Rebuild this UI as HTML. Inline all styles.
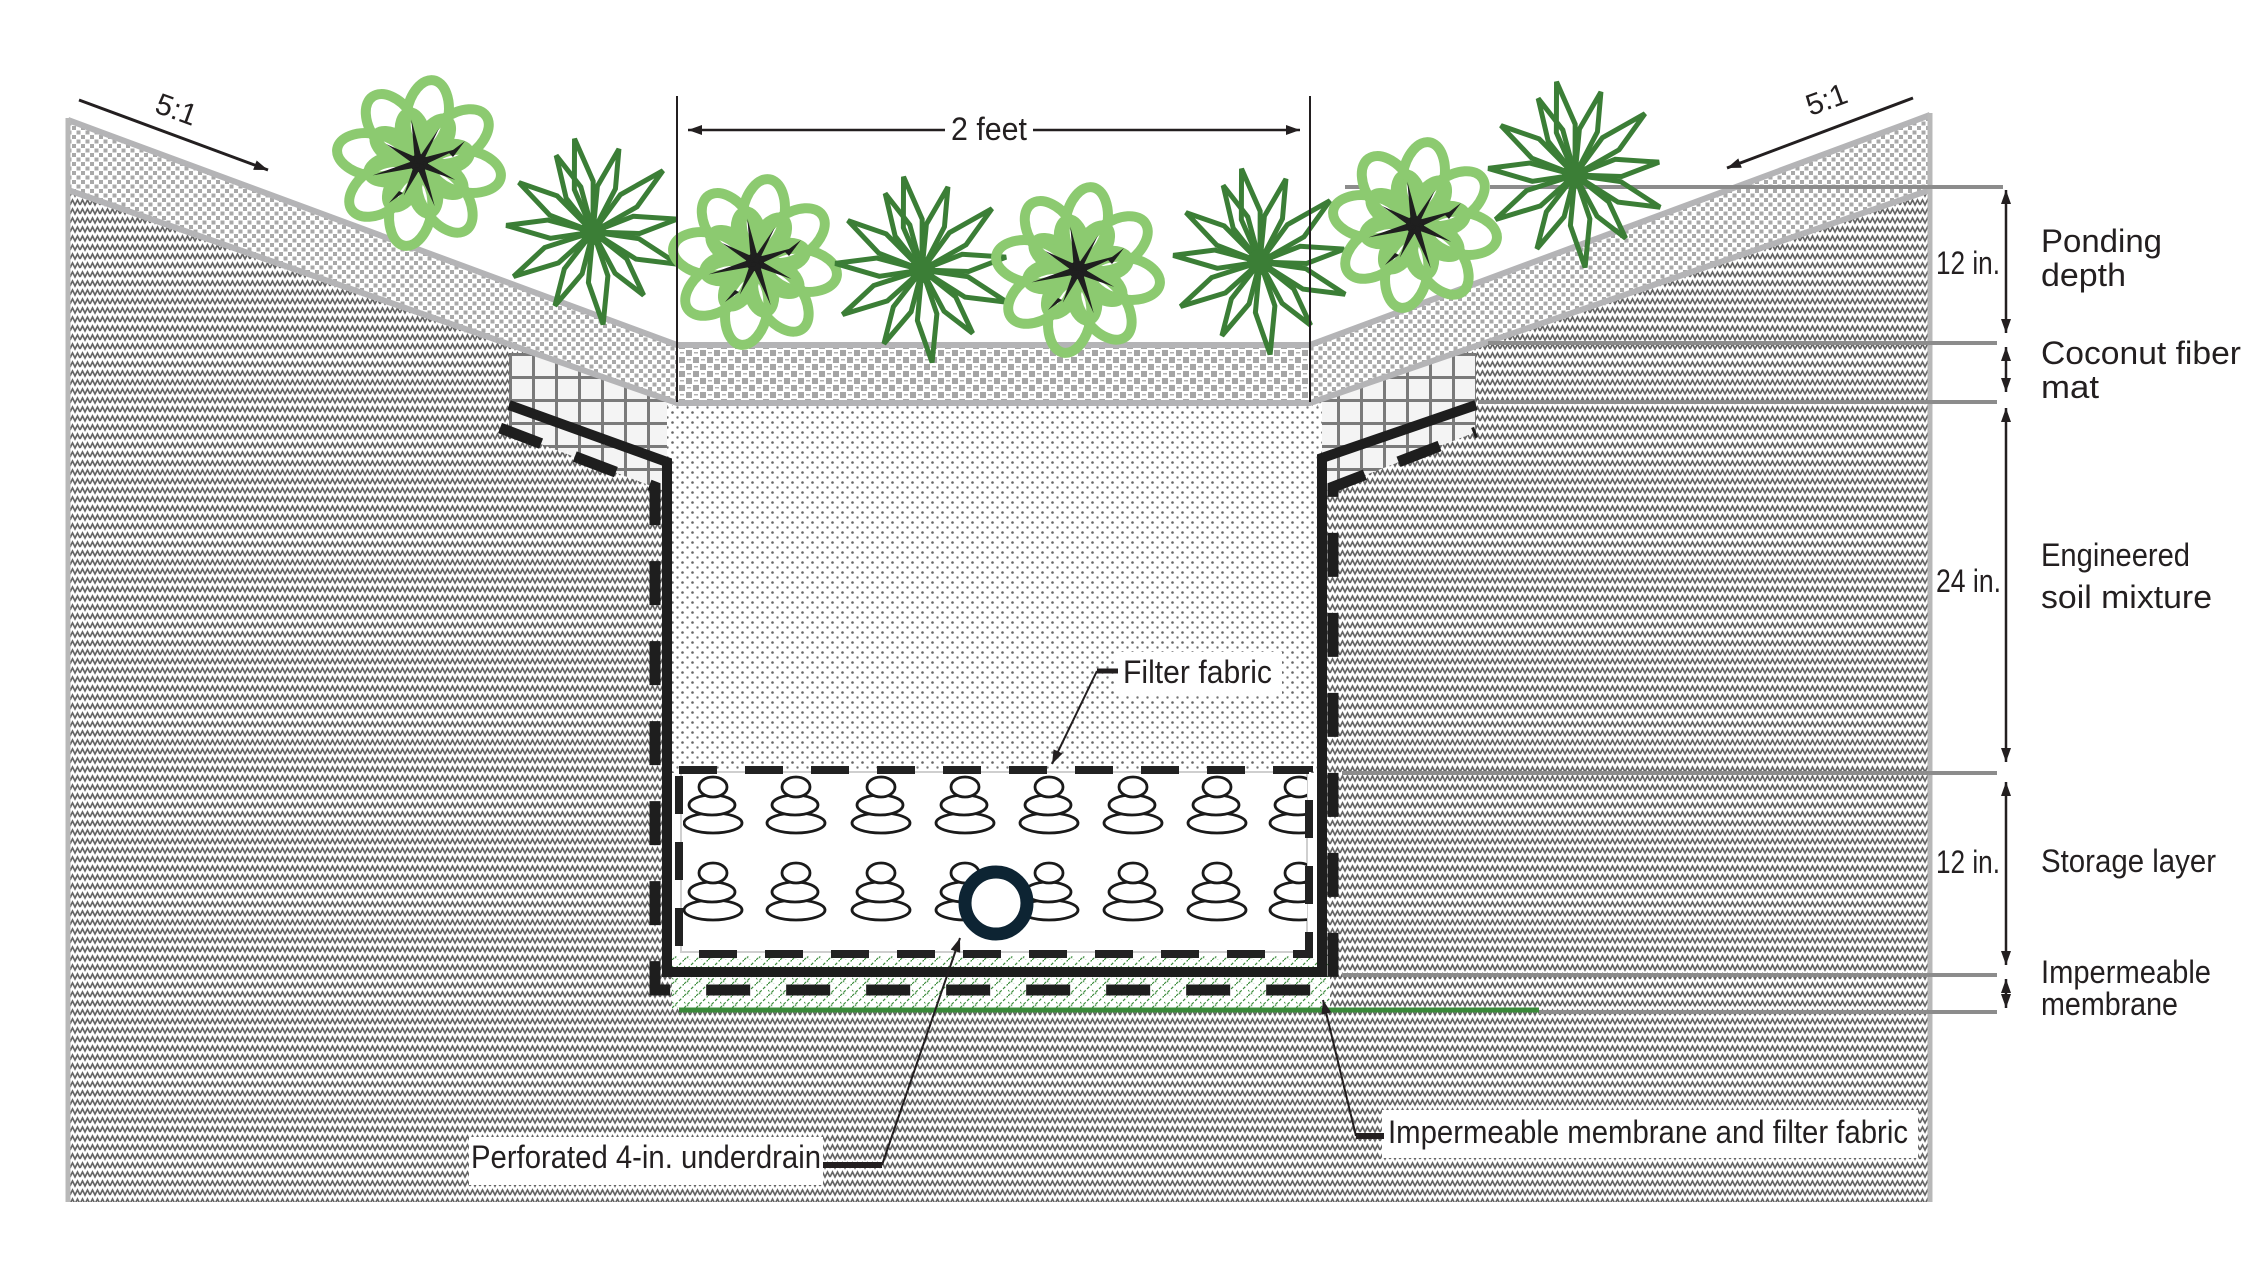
<!DOCTYPE html>
<html>
<head>
<meta charset="utf-8">
<style>
html,body{margin:0;padding:0;background:#fff;}
svg{display:block;}
text{font-family:"Liberation Sans Narrow","Liberation Sans",Arial,sans-serif;fill:#231f20;}
</style>
</head>
<body>
<svg width="2250" height="1263" viewBox="0 0 2250 1263" xmlns="http://www.w3.org/2000/svg">
<defs>
  <pattern id="gnd" width="10" height="9" patternUnits="userSpaceOnUse">
    <rect width="10" height="9" fill="#fff"/>
    <polyline points="0,7 2.5,2 5,7 7.5,2 10,7" fill="none" stroke="#666" stroke-width="1.7"/>
  </pattern>
  <pattern id="matS" width="9" height="9" patternUnits="userSpaceOnUse">
    <rect width="9" height="9" fill="#fff"/>
    <rect x="0" y="0" width="4" height="4" fill="#a9a9a9"/>
    <rect x="4.5" y="4.5" width="4" height="4" fill="#a9a9a9"/>
  </pattern>
  <pattern id="matF" width="14" height="14" patternUnits="userSpaceOnUse">
    <rect width="14" height="14" fill="#fff"/>
    <rect x="0" y="0" width="6" height="6" fill="#a6a6a6"/>
    <rect x="7" y="7" width="6" height="6" fill="#a6a6a6"/>
    <rect x="8" y="2" width="4" height="1.5" fill="#b0b0b0"/>
    <rect x="1" y="9" width="4" height="1.5" fill="#b0b0b0"/>
  </pattern>
  <pattern id="soil" width="10" height="10" patternUnits="userSpaceOnUse">
    <rect width="10" height="10" fill="#fff"/>
    <circle cx="2.5" cy="2.5" r="1.3" fill="#666"/>
    <circle cx="7.5" cy="7.5" r="1.2" fill="#777"/>
  </pattern>
  <pattern id="grid" width="23" height="23" patternUnits="userSpaceOnUse" x="509" y="353">
    <rect width="23" height="23" fill="#f4f4f4"/>
    <rect x="0" y="0" width="3" height="23" fill="#7a7a7a"/>
    <rect x="0" y="0" width="23" height="3" fill="#7a7a7a"/>
  </pattern>
  <pattern id="hatch" width="12" height="12" patternUnits="userSpaceOnUse">
    <rect width="12" height="12" fill="#fff"/>
    <path d="M0,12 L12,0" stroke="#3c8c3c" stroke-width="1.2" stroke-dasharray="3 2" fill="none"/>
    <path d="M0,6 L6,12" stroke="#3c8c3c" stroke-width="0.9" stroke-dasharray="2 2" fill="none"/>
  </pattern>
  <clipPath id="stoneclip"><rect x="683" y="774" width="624" height="178"/></clipPath>
  <marker id="ah" viewBox="0 0 14 10" refX="14" refY="5" markerWidth="14" markerHeight="10" markerUnits="userSpaceOnUse" orient="auto-start-reverse">
    <path d="M0,0 L14,5 L0,10 Z" fill="#231f20"/>
  </marker>

  <!-- light green plant -->
  <g id="lp">
    <g fill="none" stroke="#8cca70" stroke-width="10" stroke-linejoin="round">
      <ellipse cx="48" cy="0" rx="36" ry="21" transform="rotate(-80)"/>
      <ellipse cx="46" cy="0" rx="36" ry="22" transform="rotate(-35)"/>
      <ellipse cx="48" cy="0" rx="35" ry="21" transform="rotate(10)"/>
      <ellipse cx="45" cy="0" rx="37" ry="22" transform="rotate(55)"/>
      <ellipse cx="48" cy="0" rx="36" ry="21" transform="rotate(100)"/>
      <ellipse cx="46" cy="0" rx="36" ry="22" transform="rotate(145)"/>
      <ellipse cx="48" cy="0" rx="35" ry="21" transform="rotate(190)"/>
      <ellipse cx="45" cy="0" rx="36" ry="22" transform="rotate(235)"/>
    </g>
    <g fill="none" stroke="#8cca70" stroke-width="9">
      <ellipse cx="30" cy="0" rx="22" ry="13" transform="rotate(-57)"/>
      <ellipse cx="30" cy="0" rx="22" ry="13" transform="rotate(-12)"/>
      <ellipse cx="30" cy="0" rx="22" ry="13" transform="rotate(33)"/>
      <ellipse cx="30" cy="0" rx="22" ry="13" transform="rotate(78)"/>
      <ellipse cx="30" cy="0" rx="22" ry="13" transform="rotate(123)"/>
      <ellipse cx="30" cy="0" rx="22" ry="13" transform="rotate(168)"/>
      <ellipse cx="30" cy="0" rx="22" ry="13" transform="rotate(213)"/>
      <ellipse cx="30" cy="0" rx="22" ry="13" transform="rotate(258)"/>
    </g>
    <g fill="#1f1f1f">
      <circle r="9"/>
      <path d="M0,-4 L44,0 L0,4Z" transform="rotate(-20)"/>
      <path d="M0,-4 L40,0 L0,4Z" transform="rotate(25)"/>
      <path d="M0,-4 L46,0 L0,4Z" transform="rotate(70)"/>
      <path d="M0,-4 L36,0 L0,4Z" transform="rotate(115)"/>
      <path d="M0,-4 L48,0 L0,4Z" transform="rotate(165)"/>
      <path d="M0,-4 L38,0 L0,4Z" transform="rotate(210)"/>
      <path d="M0,-4 L44,0 L0,4Z" transform="rotate(260)"/>
      <path d="M0,-3 L40,0 L0,3Z" transform="rotate(300)"/>
      <path d="M30,-10 L46,-22 L34,-6Z"/>
      <path d="M-20,28 L-30,40 L-16,30Z"/>
    </g>
  </g>

  <!-- dark green plant -->
  <g id="dp">
    <g fill="none" stroke="#3b7e36" stroke-width="5" stroke-linejoin="miter">
      <path d="M0,0 L45,-11 L95,-2 L50,9 Z" transform="rotate(-100)"/>
      <path d="M0,0 L45,-10 L87,-1 L48,8 Z" transform="rotate(-72)"/>
      <path d="M0,0 L45,-11 L93,-2 L50,9 Z" transform="rotate(-40)"/>
      <path d="M0,0 L42,-10 L85,-1 L46,8 Z" transform="rotate(-8)"/>
      <path d="M0,0 L45,-11 L91,-2 L50,9 Z" transform="rotate(22)"/>
      <path d="M0,0 L42,-10 L81,-1 L46,8 Z" transform="rotate(52)"/>
      <path d="M0,0 L45,-11 L93,-2 L50,9 Z" transform="rotate(85)"/>
      <path d="M0,0 L42,-10 L83,-1 L46,8 Z" transform="rotate(118)"/>
      <path d="M0,0 L45,-11 L91,-2 L50,9 Z" transform="rotate(152)"/>
      <path d="M0,0 L42,-10 L87,-1 L46,8 Z" transform="rotate(185)"/>
      <path d="M0,0 L45,-11 L89,-2 L50,9 Z" transform="rotate(215)"/>
      <path d="M0,0 L42,-10 L85,-1 L46,8 Z" transform="rotate(245)"/>
    </g>
    <circle r="13" fill="#3b7e36"/>
  </g>
</defs>

<!-- ground -->
<polygon points="68,120 677,345 1310,345 1930,115 1930,1202 68,1202" fill="url(#gnd)"/>

<!-- grid boxes (coconut fiber) -->
<polygon points="509,353 667,353 667,492 509,432" fill="url(#grid)"/>
<polygon points="1322,353 1476,353 1476,432 1322,492" fill="url(#grid)"/>

<!-- mat band -->
<polygon points="68,120 677,345 677,403 68,190" fill="url(#matS)"/>
<polygon points="1310,345 1930,115 1930,190 1310,403" fill="url(#matS)"/>
<rect x="677" y="345" width="633" height="58" fill="url(#matF)"/>
<polyline points="68,120 677,345 1310,345 1930,115" fill="none" stroke="#b4b4b6" stroke-width="6"/>
<polyline points="68,190 677,403 1310,403 1930,190" fill="none" stroke="#b4b4b6" stroke-width="6"/>

<!-- edges -->
<line x1="68" y1="118" x2="68" y2="1202" stroke="#b8b8b8" stroke-width="5"/>
<line x1="1930" y1="113" x2="1930" y2="1202" stroke="#b8b8b8" stroke-width="5"/>

<!-- soil -->
<rect x="667" y="406" width="655" height="367" fill="url(#soil)"/>
<!-- storage -->
<rect x="670" y="773" width="650" height="197" fill="#fff"/>
<rect x="681" y="772" width="626" height="180" fill="none" stroke="#cfcfcf" stroke-width="2"/>

<!-- green hatch -->
<rect x="672" y="956" width="658" height="52" fill="url(#hatch)"/>
<line x1="679" y1="1010" x2="1539" y2="1010" stroke="#3a8a3a" stroke-width="5"/>

<!-- stones -->
<g clip-path="url(#stoneclip)" fill="#fff" stroke="#1a1a1a" stroke-width="2.8">
  <g id="stk">
    <ellipse cx="0" cy="823" rx="29" ry="10"/>
    <ellipse cx="-1" cy="805" rx="23" ry="10"/>
    <ellipse cx="0" cy="787" rx="14" ry="10"/>
    <ellipse cx="0" cy="910" rx="29" ry="10"/>
    <ellipse cx="-1" cy="892" rx="23" ry="10"/>
    <ellipse cx="0" cy="873" rx="14" ry="10"/>
  </g>
  <use href="#stk" x="713"/>
  <use href="#stk" x="796"/>
  <use href="#stk" x="881"/>
  <use href="#stk" x="965"/>
  <use href="#stk" x="1049"/>
  <use href="#stk" x="1133"/>
  <use href="#stk" x="1217"/>
  <use href="#stk" x="1299"/>
</g>

<!-- filter fabric dashed rect -->
<rect x="679" y="770" width="630" height="184" fill="none" stroke="#222" stroke-width="8" stroke-dasharray="38 28"/>

<!-- membrane solid -->
<path d="M509,405 L667,462 L667,972 L1322,972 L1322,458 L1476,405" fill="none" stroke="#1e1e1e" stroke-width="10" stroke-linejoin="miter"/>
<!-- membrane dashed -->
<path d="M500,428 L655,487 L655,990 L1333,990 L1333,487 L1476,432" fill="none" stroke="#1e1e1e" stroke-width="11" stroke-dasharray="44 36" stroke-linejoin="miter"/>

<!-- pipe -->
<circle cx="996" cy="903" r="31" fill="#fff" stroke="#0d2433" stroke-width="13"/>

<!-- dimension lines right -->
<g stroke="#8c8c8c" stroke-width="4">
  <line x1="1345" y1="187" x2="1362" y2="187"/>
  <line x1="1490" y1="187" x2="2003" y2="187"/>
  <line x1="1488" y1="343" x2="1997" y2="343"/>
  <line x1="1478" y1="402" x2="1997" y2="402"/>
  <line x1="1342" y1="773" x2="1997" y2="773"/>
  <line x1="1342" y1="975" x2="1997" y2="975"/>
  <line x1="1539" y1="1012" x2="1997" y2="1012"/>
</g>
<g stroke="#231f20" stroke-width="2.5">
  <line x1="2006" y1="190" x2="2006" y2="333" marker-start="url(#ah)" marker-end="url(#ah)"/>
  <line x1="2006" y1="347" x2="2006" y2="392" marker-start="url(#ah)" marker-end="url(#ah)"/>
  <line x1="2006" y1="408" x2="2006" y2="762" marker-start="url(#ah)" marker-end="url(#ah)"/>
  <line x1="2006" y1="782" x2="2006" y2="965" marker-start="url(#ah)" marker-end="url(#ah)"/>
  <line x1="2006" y1="979" x2="2006" y2="1008" marker-start="url(#ah)" marker-end="url(#ah)"/>
</g>

<!-- plants -->
<use href="#lp" x="419" y="163"/>
<use href="#dp" x="593" y="232"/>
<use href="#lp" x="755" y="262"/>
<use href="#dp" x="922" y="270"/>
<use href="#lp" x="1078" y="270"/>
<use href="#dp" x="1260" y="262"/>
<use href="#lp" x="1415" y="225"/>
<use href="#dp" x="1575" y="175"/>

<!-- 2 feet dimension -->
<g stroke="#231f20" stroke-width="2">
  <line x1="677" y1="96" x2="677" y2="402"/>
  <line x1="1310" y1="96" x2="1310" y2="402"/>
</g>
<g stroke="#231f20" stroke-width="2.5">
  <line x1="945" y1="130" x2="688" y2="130" marker-end="url(#ah)"/>
  <line x1="1033" y1="130" x2="1300" y2="130" marker-end="url(#ah)"/>
</g>
<text x="951" y="140" font-size="32" textLength="76" lengthAdjust="spacingAndGlyphs">2 feet</text>

<!-- 5:1 slopes -->
<g stroke="#231f20" stroke-width="3">
  <line x1="79" y1="100" x2="268" y2="170" marker-end="url(#ah)"/>
  <line x1="1913" y1="98" x2="1727" y2="168" marker-end="url(#ah)"/>
</g>
<text transform="translate(173,119) rotate(20)" text-anchor="middle" font-size="30">5:1</text>
<text transform="translate(1830,109) rotate(-20)" text-anchor="middle" font-size="30">5:1</text>

<!-- right labels -->
<g font-size="32">
  <text x="1936" y="274" textLength="64" lengthAdjust="spacingAndGlyphs">12 in.</text>
  <text x="2041" y="252" textLength="121" lengthAdjust="spacingAndGlyphs">Ponding</text>
  <text x="2041" y="286" textLength="85" lengthAdjust="spacingAndGlyphs">depth</text>
  <text x="2041" y="364" textLength="200" lengthAdjust="spacingAndGlyphs">Coconut fiber</text>
  <text x="2041" y="398" textLength="58" lengthAdjust="spacingAndGlyphs">mat</text>
  <text x="1936" y="592" textLength="65" lengthAdjust="spacingAndGlyphs">24 in.</text>
  <text x="2041" y="566" textLength="149" lengthAdjust="spacingAndGlyphs">Engineered</text>
  <text x="2041" y="608" textLength="171" lengthAdjust="spacingAndGlyphs">soil mixture</text>
  <text x="1936" y="873" textLength="64" lengthAdjust="spacingAndGlyphs">12 in.</text>
  <text x="2041" y="872" textLength="175" lengthAdjust="spacingAndGlyphs">Storage layer</text>
  <text x="2041" y="983" textLength="170" lengthAdjust="spacingAndGlyphs">Impermeable</text>
  <text x="2041" y="1015" textLength="137" lengthAdjust="spacingAndGlyphs">membrane</text>
</g>

<!-- Filter fabric label -->
<rect x="1116" y="652" width="166" height="43" fill="#fff"/>
<line x1="1097" y1="671" x2="1118" y2="671" stroke="#231f20" stroke-width="5"/>
<line x1="1097" y1="671" x2="1052" y2="764" stroke="#231f20" stroke-width="2" marker-end="url(#ah)"/>
<text x="1123" y="683" font-size="32" textLength="149" lengthAdjust="spacingAndGlyphs">Filter fabric</text>

<!-- Underdrain label -->
<rect x="469" y="1137" width="354" height="48" fill="#fff"/>
<line x1="823" y1="1165" x2="882" y2="1165" stroke="#231f20" stroke-width="6"/>
<line x1="882" y1="1165" x2="960" y2="938" stroke="#231f20" stroke-width="2" marker-end="url(#ah)"/>
<text x="471" y="1168" font-size="32" textLength="350" lengthAdjust="spacingAndGlyphs">Perforated 4-in. underdrain</text>

<!-- Membrane label -->
<rect x="1382" y="1110" width="536" height="48" fill="#fff"/>
<line x1="1356" y1="1136" x2="1384" y2="1136" stroke="#231f20" stroke-width="6"/>
<line x1="1356" y1="1136" x2="1323" y2="1000" stroke="#231f20" stroke-width="2" marker-end="url(#ah)"/>
<text x="1388" y="1143" font-size="32" textLength="520" lengthAdjust="spacingAndGlyphs">Impermeable membrane and filter fabric</text>
</svg>
</body>
</html>
